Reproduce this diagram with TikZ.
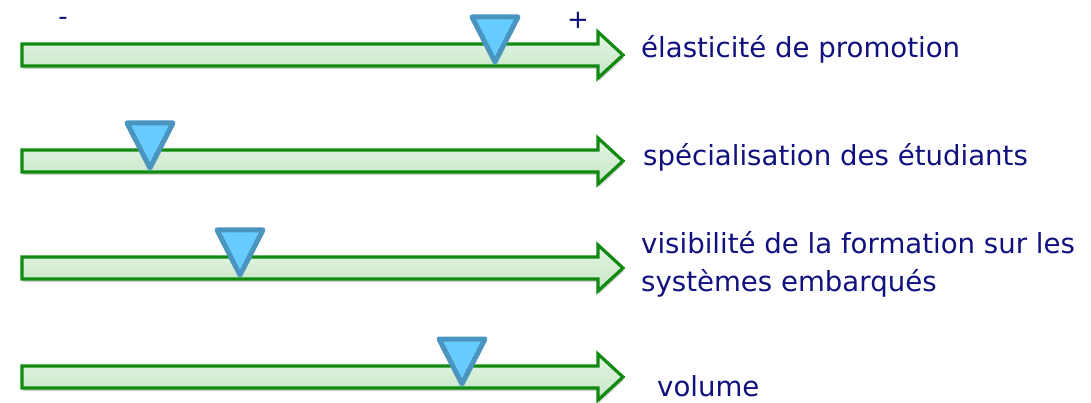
\documentclass[tikz,border=0pt]{standalone}
\usepackage{fontspec}
\setmainfont{DejaVu Sans}
\usetikzlibrary{shadows}
\definecolor{navytext}{HTML}{10107F}
\definecolor{arrowedge}{HTML}{108A10}
\definecolor{arrowtop}{HTML}{E4F4E4}
\definecolor{arrowbot}{HTML}{C6E6C6}
\definecolor{markfill}{HTML}{66CCFF}
\definecolor{markedge}{HTML}{4A94C0}
\tikzset{
  barrow/.style={draw=arrowedge, line width=3.2pt, line join=miter,
    top color=arrowtop, bottom color=arrowbot,
    drop shadow={shadow xshift=1pt, shadow yshift=-3pt, opacity=0.3, fill=black!60}},
  marker/.style={draw=markedge, fill=markfill, line width=5pt, line join=round},
  lbl/.style={anchor=west, text=navytext, font=\fontsize{27.6}{38}\selectfont, inner sep=0pt, align=left},
  sign/.style={text=navytext, font=\fontsize{26}{30}\selectfont, inner sep=0pt}
}
% one unit per pixel, y pointing down
\begin{document}
\begin{tikzpicture}[x=1pt, y=-1pt]
\useasboundingbox (0,0) rectangle (1091,403);
% block arrow centred at height \c, with a marker whose tip is at \m
\foreach \c/\m [count=\i] in {55/495, 161/150, 268/240, 377/462}{
  \path[barrow] (22,\c-11) -- (598,\c-11) -- (598,\c-23) -- (623,\c)
       -- (598,\c+23) -- (598,\c+11) -- (22,\c+11) -- cycle;
  \path[marker] (\m-23,\c-38) -- (\m+23,\c-38) -- (\m,\c+7) -- cycle;
  \coordinate (tip\i) at (623,\c);
}
\node[sign] (minus) at (63,21) {-};
\node[sign] (plus) at (578,20) {+};
\node[lbl] (l1) at (641,49) {élasticité de promotion};
\node[lbl] (l2) at (643,157) {spécialisation des étudiants};
\node[lbl] (l3) at (641,264) {visibilité de la formation sur les\\systèmes embarqués};
\node[lbl] (l4) at (657,386) {volume};
\end{tikzpicture}
\end{document}
